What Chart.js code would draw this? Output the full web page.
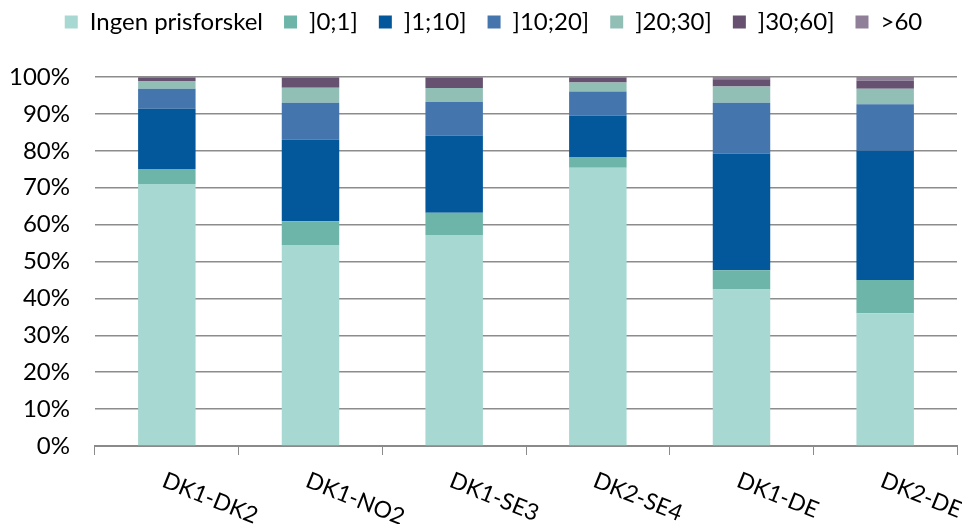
<!DOCTYPE html>
<html>
<head>
<meta charset="utf-8">
<title>Prisforskelle pr. forbindelse</title>
<script src="https://cdn.jsdelivr.net/npm/chart.js@4/dist/chart.umd.min.js"></script>
<style>
  html, body { margin: 0; padding: 0; background: #ffffff; }
  #wrap { width: 962px; height: 524px; position: relative; }
</style>
</head>
<body>
<div id="wrap"><canvas id="chart"></canvas></div>
<script>
// Forbindelser (kategorier)
const categories = ['DK1-DK2', 'DK1-NO2', 'DK1-SE3', 'DK2-SE4', 'DK1-DE', 'DK2-DE'];

// Andel af timer (%) pr. prisforskelsinterval
const ingenPrisforskel = [71.0, 54.5, 57.2, 75.4, 42.4, 36.0];
const int0til1        = [4.1, 6.4, 6.0, 2.8, 5.2, 9.0];
const int1til10       = [16.3, 22.1, 20.9, 11.3, 31.6, 35.0];
const int10til20      = [5.4, 10.0, 9.1, 6.6, 13.8, 12.6];
const int20til30      = [2.1, 4.1, 3.8, 2.4, 4.4, 4.2];
const int30til60      = [0.8, 2.6, 2.7, 1.2, 2.0, 2.2];
const over60          = [0.3, 0.3, 0.3, 0.3, 0.6, 1.0];

const seriesLabels = ['Ingen prisforskel', ']0;1]', ']1;10]', ']10;20]', ']20;30]', ']30;60]', '>60'];
const seriesValues = [ingenPrisforskel, int0til1, int1til10, int10til20, int20til30, int30til60, over60];
const seriesColors = ['#A7D8D1', '#6DB5A8', '#02589B', '#4475AC', '#91BFB6', '#665170', '#8F7F98'];

// Y-akse: 0% .. 100% i trin af 10
const yTickValues = [0, 10, 20, 30, 40, 50, 60, 70, 80, 90, 100];

const FONT = "Lato, 'Liberation Sans', sans-serif";

// Skrå kategorietiketter (drejet med uret) under x-aksen
const slantedLabels = {
  id: 'slantedLabels',
  afterDraw(chart) {
    const xs = chart.scales.x;
    const ctx = chart.ctx;
    const angle = 22 * Math.PI / 180;
    const size = 23;
    ctx.save();
    ctx.font = size + 'px ' + FONT;
    ctx.fillStyle = '#000000';
    ctx.textAlign = 'left';
    ctx.textBaseline = 'alphabetic';
    categories.forEach((label, i) => {
      const x = xs.getPixelForValue(i);
      const y = xs.bottom + 16;
      ctx.save();
      ctx.translate(x, y);
      ctx.rotate(angle);
      ctx.fillText(label, 0, size * 0.72);
      ctx.restore();
    });
    ctx.restore();
  }
};

new Chart(document.getElementById('chart'), {
  type: 'bar',
  data: {
    labels: categories,
    datasets: seriesLabels.map((label, i) => ({
      label: label,
      data: seriesValues[i],
      backgroundColor: seriesColors[i],
      borderWidth: 0,
      categoryPercentage: 1.0,
      barPercentage: 0.4
    }))
  },
  options: {
    responsive: true,
    maintainAspectRatio: false,
    animation: false,
    layout: { padding: { top: -11, left: 6, right: -19, bottom: 69 } },
    plugins: {
      tooltip: { enabled: false },
      legend: {
        position: 'top',
        weight: 1000,
        labels: {
          boxWidth: 13,
          boxHeight: 13,
          padding: 21,
          color: '#000000',
          font: { family: FONT, size: 24 }
        }
      },
      title: {
        display: true,
        text: '',
        weight: 500,
        font: { size: 10 },
        padding: { top: 21, bottom: 0 }
      }
    },
    scales: {
      x: {
        stacked: true,
        grid: {
          offset: true,
          drawOnChartArea: false,
          drawTicks: true,
          tickLength: 9,
          color: '#8a8a8a',
          lineWidth: 1
        },
        border: { display: true, color: '#8a8a8a', width: 2 },
        ticks: { display: false }
      },
      y: {
        stacked: true,
        min: 0,
        max: 100,
        afterFit(scale) { scale.width = 89; },
        afterBuildTicks(scale) { scale.ticks = yTickValues.map(v => ({ value: v })); },
        grid: { drawTicks: false, color: '#8c8c8c', lineWidth: 1.5 },
        border: { display: false },
        ticks: {
          padding: 25,
          color: '#000000',
          font: { family: FONT, size: 24 },
          callback: (v) => v + '%'
        }
      },
      // leer højremargen (ingen synlige elementer)
      yRight: {
        position: 'right',
        display: true,
        afterFit(scale) { scale.width = 24; },
        grid: { display: false, drawTicks: false },
        border: { display: false },
        ticks: { display: false }
      }
    }
  },
  plugins: [slantedLabels]
});
</script>
</body>
</html>
